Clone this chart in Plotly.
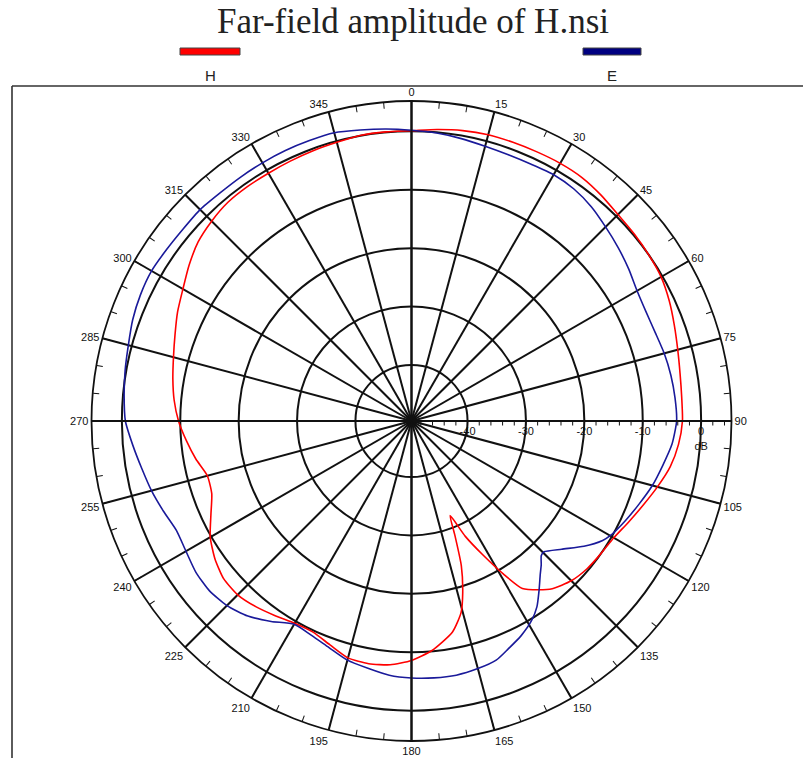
import plotly.graph_objects as go

# ---------------- data ----------------
title_text = "Far-field amplitude of H.nsi"
series_names = ["H", "E"]
series_colors = ["#ff0000", "#1a1a9a"]
legend_colors = ["#ff0000", "#000080"]

h_theta = [0, 5, 10, 15, 20, 25, 30, 35, 40, 45, 50, 55, 60, 65, 70, 75, 80, 85, 90, 95,
           100, 105, 110, 115, 120, 125, 130, 135, 140, 143, 146.5, 149, 152, 155, 157.8,
           159.2, 161, 163.4, 165.5, 169, 175, 180, 185, 190, 195, 200, 205, 210, 215, 220,
           225, 230, 235, 240, 245, 250, 255, 260, 265, 270, 275, 280, 285, 290, 295, 300,
           305, 310, 315, 320, 325, 330, 335, 340, 345, 350, 355, 360]
h_db = [0.1, 0.5, 0.9, 1.15, 1.2, 1.25, 1.35, 1.3, 0.9, 0.4,
        0.2, 0.0, -0.25, -0.9, -1.7, -2.4, -2.9, -3.15, -3.2, -3.7,
        -4.6, -6.0, -7.4, -8.6, -9.6, -10.0, -10.3, -10.9, -12.1,
        -13.4, -15.2, -19.0, -23.7, -27.8, -32.1, -28.7, -23.4, -18.9, -15.7, -12.8,
        -10.1, -8.6, -7.7, -7.4, -7.6, -8.8, -9.7, -9.6, -8.9, -8.1,
        -7.5, -7.6, -8.5, -9.8, -11.7, -13.2, -13.4, -12.1, -10.9, -9.7,
        -8.8, -8.1, -7.4, -6.5, -5.4, -4.4, -3.1, -1.9, -1.2, -0.7,
        -0.6, -0.6, -0.5, -0.35, -0.2, 0.1, 0.1, 0.1]

e_theta = [0, 5, 10, 15, 20, 25, 30, 35, 40, 45, 50, 55, 60, 65, 70, 75, 80, 85, 90, 95,
           100, 105, 110, 115, 120, 122, 126, 130.5, 134.6, 136, 138, 140, 143, 146, 149,
           153, 157, 160.5, 165, 170, 175, 180, 185, 190, 195, 200, 205, 210, 215, 220,
           225, 230, 235, 240, 245, 250, 255, 260, 265, 270, 275, 280, 285, 290, 295, 300,
           305, 310, 315, 320, 325, 330, 335, 340, 345, 350, 355, 360]
e_db = [0.2, -0.1, -0.5, -0.9, -1.1, -1.1, -0.9, -1.1, -1.7, -2.6,
        -3.4, -4.2, -5.0, -5.3, -5.2, -4.8, -4.5, -4.3, -4.2, -4.8,
        -5.9, -6.9, -8.1, -9.2, -10.3, -11.0, -13.1, -15.8, -17.7, -17.6,
        -16.4, -15.3, -13.3, -11.2, -9.7, -8.3, -7.2, -6.15, -5.7, -5.4,
        -5.45, -5.6, -5.9, -6.6, -7.2, -8.3, -9.1, -9.4, -7.7, -6.0,
        -4.9, -4.4, -4.5, -5.0, -5.2, -4.4, -3.5, -2.7, -1.7, -0.6,
        -0.2, 0.2, 0.6, 1.2, 1.6, 1.8, 1.6, 1.5, 1.6, 1.4,
        1.4, 1.45, 1.5, 1.5, 1.5, 1.0, 0.6, 0.2]

angle_labels = list(range(0, 360, 15))
minor_angles = [a for a in range(0, 360, 5) if a % 15]
axis_angles = [0, 90, 180, 270]
db_grid = [-40, -30, -20, -10, 0]
db_labels = ["-40", "-30", "-20", "-10", "0<br>dB"]
db_minor = [d for d in range(-48, 6, 2)]
r_range = [-49.6, 5.2]

# ---------------- layout geometry ----------------
W, H = 803, 758
CX, CY, R = 411.5, 421.0, 320.0
dom_x = [(CX - R) / W, (CX + R) / W]
dom_y = [(H - CY - R) / H, (H - CY + R) / H]

GRID = "#111111"
small_font = dict(family="Liberation Sans Narrow, Arial Narrow, Liberation Sans, Arial",
                  size=11, color="#111111")

fig = go.Figure()
fig.add_trace(go.Scatterpolar(r=h_db, theta=h_theta, mode="lines", name=series_names[0],
                              line=dict(color=series_colors[0], width=1.6, shape="spline",
                                        smoothing=0.6),
                              subplot="polar", hoverinfo="skip"))
fig.add_trace(go.Scatterpolar(r=e_db, theta=e_theta, mode="lines", name=series_names[1],
                              line=dict(color=series_colors[1], width=1.6, shape="spline",
                                        smoothing=0.6),
                              subplot="polar", hoverinfo="skip"))
# invisible carriers so the overlay polar subplots get drawn
for sp in ["polar2", "polar3"]:
    fig.add_trace(go.Scatterpolar(r=e_db, theta=e_theta, mode="lines", opacity=0,
                                  line=dict(width=0), subplot=sp, hoverinfo="skip",
                                  showlegend=False))

fig.update_layout(
    width=W, height=H, margin=dict(l=0, r=0, t=0, b=0),
    paper_bgcolor="white", plot_bgcolor="white", showlegend=False,
    polar=dict(
        domain=dict(x=dom_x, y=dom_y), bgcolor="rgba(0,0,0,0)",
        angularaxis=dict(rotation=90, direction="clockwise", tickmode="array",
                         tickvals=angle_labels, ticktext=[str(a) for a in angle_labels],
                         showgrid=True, gridcolor=GRID, gridwidth=1.6,
                         showline=True, linecolor=GRID, linewidth=1.8,
                         ticks="inside", ticklen=7, tickcolor=GRID, tickwidth=1.4,
                         tickfont=small_font),
        radialaxis=dict(range=r_range, angle=0, tickmode="array", tickvals=db_grid,
                        ticktext=db_labels, showgrid=True, gridcolor=GRID, gridwidth=1.6,
                        showline=True, linecolor=GRID, linewidth=2.2, ticks="",
                        tickfont=small_font, side="clockwise"),
    ),
    polar2=dict(
        domain=dict(x=dom_x, y=dom_y), bgcolor="rgba(0,0,0,0)",
        angularaxis=dict(rotation=90, direction="clockwise", tickmode="array",
                         tickvals=minor_angles, showticklabels=False, showgrid=False,
                         showline=False, ticks="inside", ticklen=6, tickcolor=GRID,
                         tickwidth=1.4),
        radialaxis=dict(range=r_range, angle=0, tickmode="array", tickvals=db_minor,
                        showticklabels=False, showgrid=False, showline=False,
                        ticks="outside", ticklen=4, tickcolor=GRID, tickwidth=1.4),
    ),
    polar3=dict(
        domain=dict(x=dom_x, y=dom_y), bgcolor="rgba(0,0,0,0)",
        angularaxis=dict(rotation=90, direction="clockwise", tickmode="array",
                         tickvals=axis_angles, showticklabels=False, showgrid=True,
                         gridcolor=GRID, gridwidth=2.2, showline=False, ticks=""),
        radialaxis=dict(range=r_range, angle=0, showticklabels=False, showgrid=False,
                        showline=False, ticks=""),
    ),
)

# frame lines (top and left edges of the plot box)
fig.add_shape(type="line", xref="paper", yref="paper", x0=12 / W, x1=1.0,
              y0=1 - 86 / H, y1=1 - 86 / H, line=dict(color="#333333", width=1.6))
fig.add_shape(type="line", xref="paper", yref="paper", x0=12 / W, x1=12 / W,
              y0=0, y1=1 - 86 / H, line=dict(color="#333333", width=1.6))

# title
fig.add_annotation(text=title_text, xref="paper", yref="paper", x=413 / W, y=1 - 21 / H,
                   showarrow=False, xanchor="center", yanchor="middle",
                   font=dict(family="Liberation Serif, Times New Roman, serif", size=35,
                             color="#222222"))

# legend (swatch above label)
legend_x = [[180, 240], [583, 641]]
for name, col, (x0, x1) in zip(series_names, legend_colors, legend_x):
    fig.add_shape(type="rect", xref="paper", yref="paper", x0=x0 / W, x1=x1 / W,
                  y0=1 - 55 / H, y1=1 - 48 / H, fillcolor=col,
                  line=dict(color="#444444", width=1))
    fig.add_annotation(text=name, xref="paper", yref="paper", x=(x0 + x1) / 2 / W,
                       y=1 - 75 / H, showarrow=False, xanchor="center", yanchor="middle",
                       font=dict(family="Liberation Sans, Arial", size=15, color="#222222"))

fig.write_html("out.html")
